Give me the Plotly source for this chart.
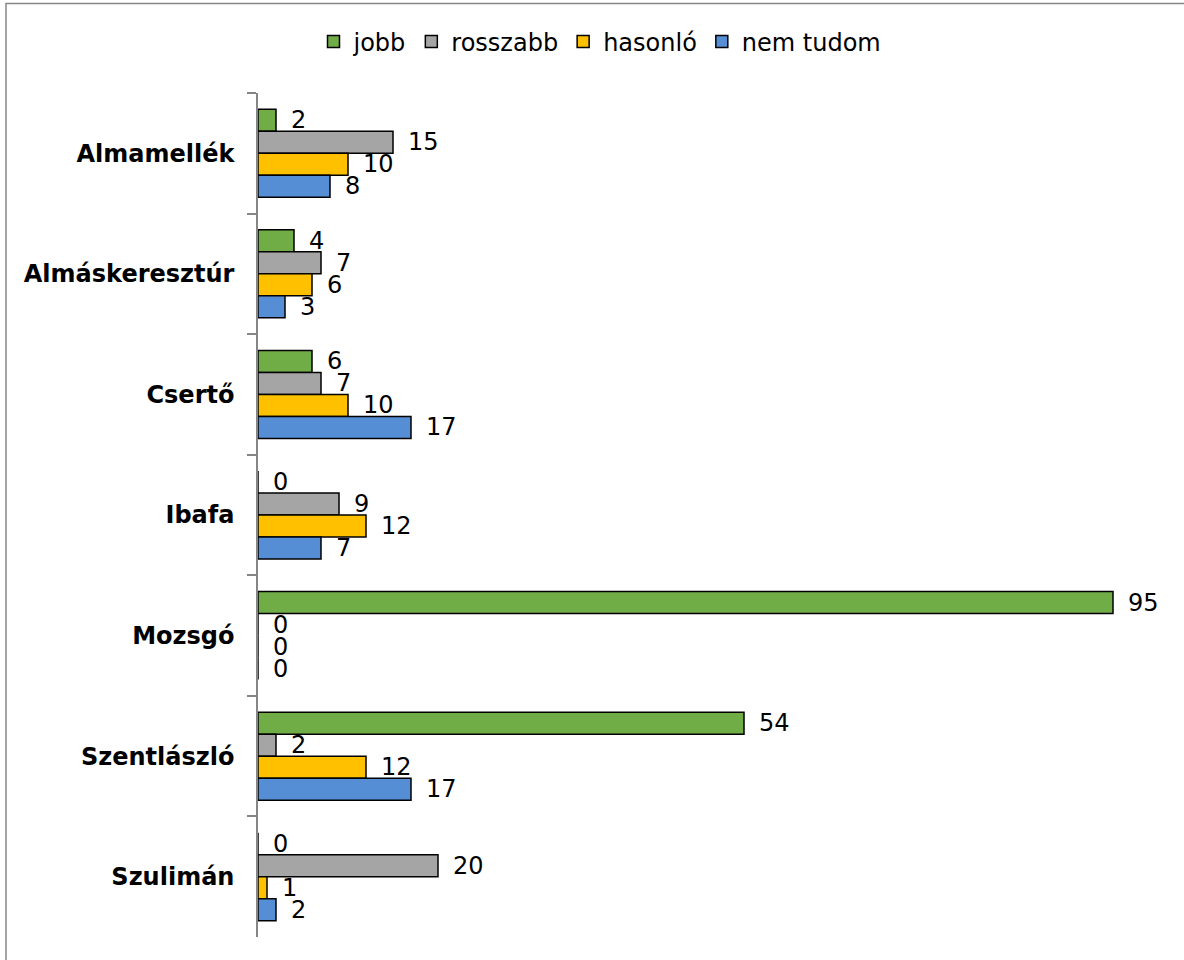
import plotly.graph_objects as go

categories = ["Almamellék", "Almáskeresztúr", "Csertő", "Ibafa", "Mozsgó", "Szentlászló", "Szulimán"]
series_names = ["jobb", "rosszabb", "hasonló", "nem tudom"]
jobb = [2, 4, 6, 0, 95, 54, 0]
rosszabb = [15, 7, 7, 9, 0, 2, 20]
hasonlo = [10, 6, 10, 12, 0, 12, 1]
nem_tudom = [8, 3, 17, 7, 0, 17, 2]

values = [jobb, rosszabb, hasonlo, nem_tudom]
colors = ["#70AD47", "#A5A5A5", "#FFC000", "#558ED5"]

FONT = "Verdana, DejaVu Sans, sans-serif"

fig = go.Figure()
for name, vals, col in zip(series_names, values, colors):
    fig.add_trace(go.Bar(
        y=categories, x=vals, name=name, orientation="h",
        marker=dict(color=col, line=dict(color="#000000", width=1.5)),
        text=[f"\u2002{v}" for v in vals],
        textposition="outside", cliponaxis=False,
        textfont=dict(family=FONT, size=24, color="#000000"),
        constraintext="none",
    ))

L, T, W, H = 258, 93, 900, 844

fig.update_layout(
    width=1184, height=960,
    margin=dict(l=L, r=1184 - L - W, t=T, b=960 - T - H),
    paper_bgcolor="white", plot_bgcolor="white",
    barmode="group", bargap=0.27, bargroupgap=0,
    font=dict(family=FONT, size=24, color="#000000"),
    showlegend=True,
    legend=dict(orientation="h", x=(600 - L) / W, xanchor="center",
                y=(T + H - 42) / H, yanchor="middle",
                font=dict(family=FONT, size=24), traceorder="normal",
                itemwidth=30, bgcolor="rgba(0,0,0,0)"),
    xaxis=dict(range=[0, 100], showgrid=False, zeroline=False, showline=False,
               showticklabels=False, ticks=""),
    yaxis=dict(autorange="reversed", showgrid=False, zeroline=False,
               showline=True, linecolor="#868686", linewidth=1.5,
               ticks="outside", tickson="boundaries", ticklen=9, tickcolor="#868686",
               tickwidth=1.5, ticklabelstandoff=17,
               tickfont=dict(family=FONT, size=24, color="#000000", weight="bold")),
    shapes=[dict(type="rect", xref="paper", yref="paper",
                 x0=(6 - L) / W, x1=(1200 - L) / W,
                 y0=(T + H - 975) / H, y1=(T + H - 3.5) / H,
                 line=dict(color="#868686", width=1.5), fillcolor="rgba(0,0,0,0)",
                 layer="below")],
)

fig.write_html("out.html", config={"displayModeBar": False},
               post_script="document.body.style.margin='0';")
